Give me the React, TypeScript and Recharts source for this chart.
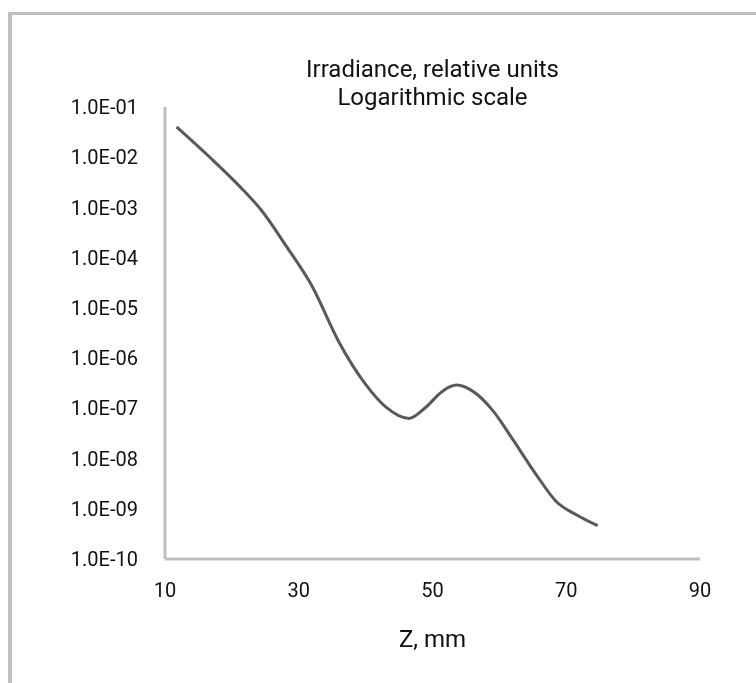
import React from "react";
import { LineChart, Line, XAxis, YAxis } from "recharts";

// distance along the axis, mm
const zValues = [
  11.75, 16.7, 21.2, 24.5, 28, 32, 36, 40, 43, 46.5, 49, 51.5, 53.6, 56, 59,
  62, 65.5, 68.5, 71.5, 74.7,
];
// relative irradiance
const irradiance = [
  4.0e-2, 1.0e-2, 2.6e-3, 8.5e-4, 1.8e-4, 2.7e-5, 2.1e-6, 3.0e-7, 1.07e-7,
  6.3e-8, 1.05e-7, 2.2e-7, 2.9e-7, 2.2e-7, 9.1e-8, 2.4e-8, 4.8e-9, 1.4e-9,
  7.6e-10, 4.6e-10,
];

const xTicks = [10, 30, 50, 70, 90];
const yTicks = [1e-10, 1e-9, 1e-8, 1e-7, 1e-6, 1e-5, 1e-4, 1e-3, 1e-2, 1e-1];

const titleLines = ["Irradiance, relative units", "Logarithmic scale"];
const xTitle = "Z, mm";

const data = zValues.map((z, i) => ({ z, value: irradiance[i] }));

const fmtExp = (v: number) => {
  const e = Math.round(Math.log10(v));
  return `1.0E${e < 0 ? "-" : "+"}${String(Math.abs(e)).padStart(2, "0")}`;
};

const FONT = "Roboto, sans-serif";
const AXIS = "#bfbfbf";
const TEXT = "#111";

export default function App() {
  return (
    <div style={{ position: "relative", width: 740, height: 660, fontFamily: FONT }}>
      <div
        style={{
          position: "fixed",
          left: 8,
          top: 12,
          width: 900,
          height: 900,
          borderTop: `3px solid ${AXIS}`,
          borderLeft: `4px solid ${AXIS}`,
          boxSizing: "border-box",
        }}
      />
      <LineChart
        width={740}
        height={660}
        data={data}
        margin={{ top: 99, right: 48, bottom: 69, left: 0 }}
      >
        <XAxis
          dataKey="z"
          type="number"
          domain={[10, 90]}
          ticks={xTicks}
          allowDataOverflow
          height={40}
          tickLine={false}
          tickSize={0}
          tickMargin={24}
          stroke={AXIS}
          strokeWidth={3}
          tick={{ fill: TEXT, fontSize: 20, fontFamily: FONT }}
        />
        <YAxis
          type="number"
          scale="log"
          domain={[1e-10, 1e-1]}
          ticks={yTicks}
          allowDataOverflow
          width={157}
          tickLine={false}
          tickSize={0}
          tickMargin={27}
          tickFormatter={fmtExp}
          stroke={AXIS}
          strokeWidth={3}
          tick={{ fill: TEXT, fontSize: 20, fontFamily: FONT }}
        />
        <Line
          type="monotone"
          dataKey="value"
          stroke="#595959"
          strokeWidth={3}
          dot={false}
          isAnimationActive={false}
        />
      </LineChart>
      <svg
        width={740}
        height={660}
        style={{ position: "absolute", left: 0, top: 0, pointerEvents: "none" }}
      >
        <text x={424.5} y={69} textAnchor="middle" fontSize={24} fill={TEXT} fontFamily={FONT}>
          {titleLines[0]}
        </text>
        <text x={424.5} y={97} textAnchor="middle" fontSize={24} fill={TEXT} fontFamily={FONT}>
          {titleLines[1]}
        </text>
        <text x={424.5} y={639} textAnchor="middle" fontSize={24} fill={TEXT} fontFamily={FONT}>
          {xTitle}
        </text>
      </svg>
    </div>
  );
}
